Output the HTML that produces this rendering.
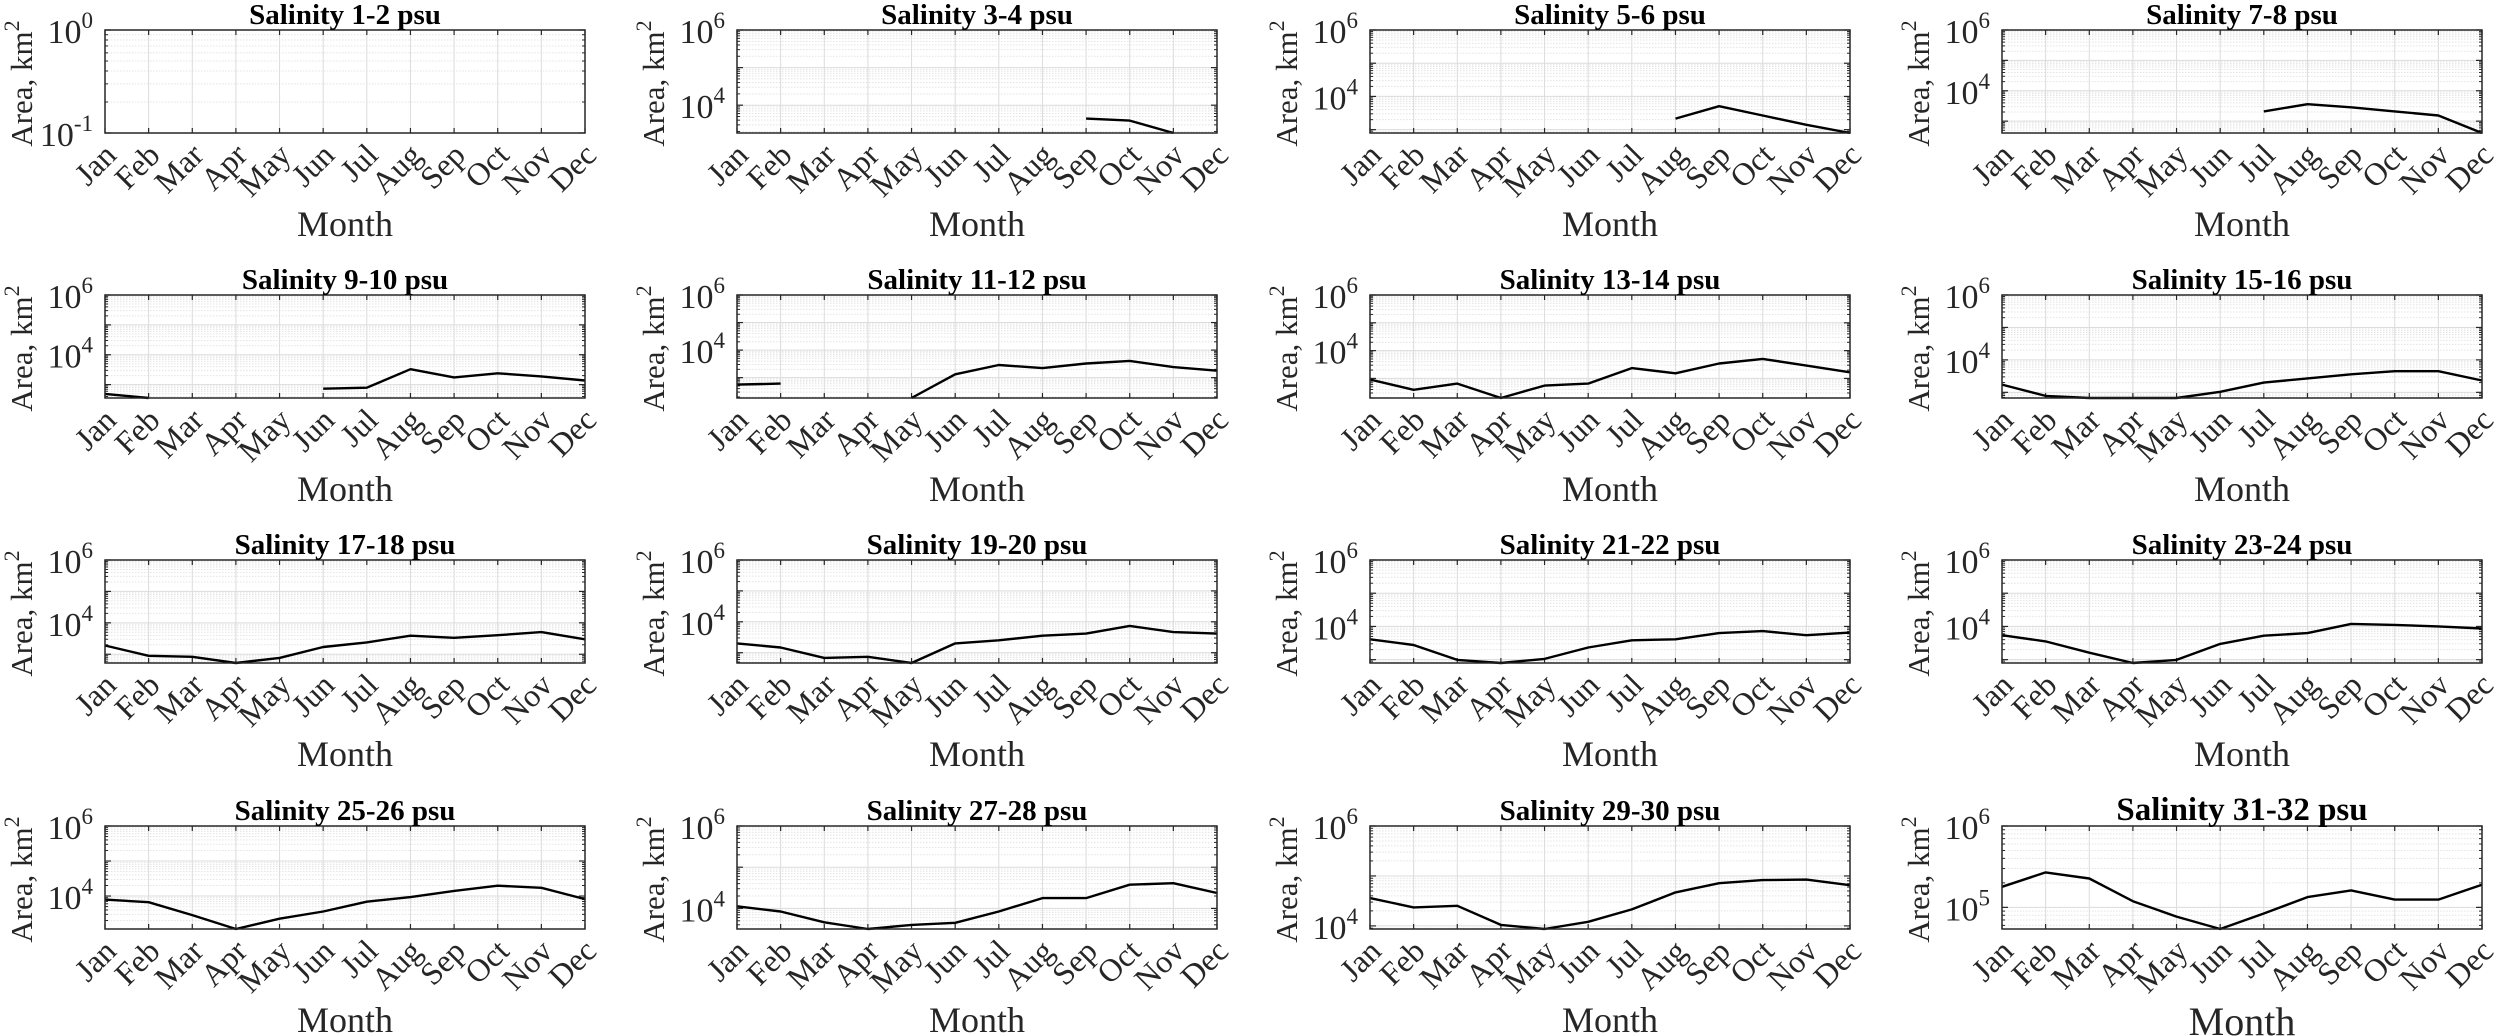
<!DOCTYPE html>
<html><head><meta charset="utf-8"><style>
html,body{margin:0;padding:0;background:#fff;}
svg{display:block;font-family:"Liberation Serif","Times New Roman",serif;}
</style></head><body>
<svg id="s" width="2500" height="1036" viewBox="0 0 2500 1036" xmlns="http://www.w3.org/2000/svg"></svg>
<script>
const S=document.getElementById('s');
const NS='http://www.w3.org/2000/svg';
function el(t,a,txt){const e=document.createElementNS(NS,t);for(const k in a)e.setAttribute(k,a[k]);if(txt!==undefined)e.textContent=txt;S.appendChild(e);return e;}
const colX=[105,737,1370,2002], rowY=[30,295,560,826], W=480, H=103;
const months=['Jan','Feb','Mar','Apr','May','Jun','Jul','Aug','Sep','Oct','Nov','Dec'];
const P=[
 {t:'1-2',top:0,dec:1,labs:[[0,'10','0'],[1,'10','-1']],d:[]},
 {t:'3-4',f4:0.73,d:[null,null,null,null,null,null,null,null,0.86,0.88,1.0,null]},
 {t:'5-6',f4:0.645,d:[null,null,null,null,null,null,null,0.86,0.74,0.83,0.92,1.0]},
 {t:'7-8',f4:0.59,d:[null,null,null,null,null,null,0.79,0.72,0.75,0.79,0.83,1.0]},
 {t:'9-10',f4:0.58,d:[0.96,1.0,null,null,null,0.91,0.90,0.72,0.80,0.76,0.79,0.83]},
 {t:'11-12',f4:0.535,d:[0.87,0.86,null,null,1.0,0.77,0.68,0.71,0.665,0.64,0.70,0.735]},
 {t:'13-14',f4:0.54,d:[0.82,0.92,0.86,1.0,0.88,0.86,0.71,0.76,0.665,0.62,0.685,0.75]},
 {t:'15-16',f4:0.63,d:[0.87,0.98,1.0,1.0,1.0,0.94,0.85,0.81,0.77,0.74,0.74,0.83]},
 {t:'17-18',f4:0.61,d:[0.83,0.93,0.94,1.0,0.95,0.845,0.80,0.735,0.755,0.73,0.70,0.77]},
 {t:'19-20',f4:0.60,d:[0.81,0.85,0.95,0.94,1.0,0.81,0.78,0.735,0.715,0.64,0.70,0.715]},
 {t:'21-22',f4:0.645,d:[0.77,0.825,0.97,1.0,0.96,0.85,0.78,0.77,0.71,0.69,0.73,0.705]},
 {t:'23-24',f4:0.645,d:[0.73,0.79,0.90,1.0,0.97,0.815,0.735,0.71,0.62,0.63,0.645,0.665]},
 {t:'25-26',f4:0.68,d:[0.715,0.74,0.865,1.0,0.90,0.83,0.735,0.69,0.63,0.58,0.60,0.71]},
 {t:'27-28',f4:0.80,d:[0.78,0.83,0.935,1.0,0.96,0.94,0.83,0.70,0.70,0.57,0.555,0.65]},
 {t:'29-30',f4:0.97,d:[0.70,0.79,0.775,0.96,1.0,0.93,0.81,0.645,0.555,0.525,0.52,0.575]},
 {t:'31-32',top:6,dec:0.79,big:true,labs:[[0,'10','6'],[0.79,'10','5']],d:[0.59,0.45,0.51,0.73,0.88,1.0,0.85,0.69,0.625,0.715,0.715,0.57]}
];
P.forEach((p,i)=>{
  const x0=colX[i%4], y0=rowY[Math.floor(i/4)];
  let dec=p.dec, top=p.top, labs=p.labs;
  if(p.f4!==undefined){dec=p.f4/2;top=6;labs=[[0,'10','6'],[p.f4,'10','4']];}
  const dx=W/11;
  for(let k=0;k<12;k++){
    const fy=k*dec;
    if(fy<=1.0001 && k>0){el('line',{x1:x0,x2:x0+W,y1:y0+fy*H,y2:y0+fy*H,stroke:'#dcdcdc','stroke-width':1});}
    for(let m=2;m<=9;m++){
      const f=fy+(1-Math.log10(m))*dec;
      if(f>0&&f<1) el('line',{x1:x0,x2:x0+W,y1:y0+f*H,y2:y0+f*H,stroke:'#e4e4e4','stroke-width':1,'stroke-dasharray':'1.5,1.5'});
    }
    if(fy>1)break;
  }
  for(let m=1;m<11;m++){const x=x0+m*dx;el('line',{x1:x,x2:x,y1:y0,y2:y0+H,stroke:'#dcdcdc','stroke-width':1});}
  for(let m=0;m<12;m++){const x=x0+m*dx;
    el('line',{x1:x,x2:x,y1:y0+H,y2:y0+H-5,stroke:'#262626','stroke-width':1.2});
    el('line',{x1:x,x2:x,y1:y0,y2:y0+5,stroke:'#262626','stroke-width':1.2});}
  for(let k=0;k<12;k++){const fy=k*dec;if(fy>1.0001)break;
    el('line',{x1:x0,x2:x0+6,y1:y0+fy*H,y2:y0+fy*H,stroke:'#262626','stroke-width':1.2});
    el('line',{x1:x0+W,x2:x0+W-6,y1:y0+fy*H,y2:y0+fy*H,stroke:'#262626','stroke-width':1.2});
    for(let m=2;m<=9;m++){const f=fy+(1-Math.log10(m))*dec;if(f>0&&f<1){
      el('line',{x1:x0,x2:x0+3,y1:y0+f*H,y2:y0+f*H,stroke:'#262626','stroke-width':1});
      el('line',{x1:x0+W,x2:x0+W-3,y1:y0+f*H,y2:y0+f*H,stroke:'#262626','stroke-width':1});}}
  }
  let seg=[];const segs=[];
  p.d.forEach((v,m)=>{if(v===null){if(seg.length)segs.push(seg);seg=[];}else seg.push((x0+m*dx).toFixed(1)+','+(y0+v*H).toFixed(1));});
  if(seg.length)segs.push(seg);
  segs.forEach(s=>el('polyline',{points:s.join(' '),fill:'none',stroke:'#000','stroke-width':2.4,'stroke-linejoin':'round'}));
  el('rect',{x:x0,y:y0,width:W,height:H,fill:'none',stroke:'#262626','stroke-width':1.5});
  el('text',{x:x0+W/2,y:y0-6,'text-anchor':'middle','font-size':p.big?33:29,'font-weight':'bold',fill:'#000'},'Salinity '+p.t+' psu');
  labs.forEach(([f,b,e])=>{
    const t=el('text',{x:x0-12,y:y0+f*H+13,'text-anchor':'end','font-size':34,fill:'#262626'});
    const a=document.createElementNS(NS,'tspan');a.textContent=b;t.appendChild(a);
    const c=document.createElementNS(NS,'tspan');c.setAttribute('dy','-15');c.setAttribute('font-size','23');c.textContent=e;t.appendChild(c);
  });
  const yl=el('text',{transform:`translate(${x0-73},${y0+H/2+2}) rotate(-90)`,'text-anchor':'middle','font-size':31,fill:'#262626'});
  const a1=document.createElementNS(NS,'tspan');a1.textContent='Area, km';yl.appendChild(a1);
  const a2=document.createElementNS(NS,'tspan');a2.setAttribute('dy','-13');a2.setAttribute('font-size','22');a2.textContent='2';yl.appendChild(a2);
  months.forEach((mn,m)=>{const x=x0+m*dx+13,y=y0+H+24;
    el('text',{transform:`translate(${x},${y}) rotate(-45)`,'text-anchor':'end','font-size':32,fill:'#262626'},mn);});
  el('text',{x:x0+W/2,y:y0+H+(p.big?106:103),'text-anchor':'middle','font-size':p.big?40:36,fill:'#262626'},'Month');
});
</script>
</body></html>
